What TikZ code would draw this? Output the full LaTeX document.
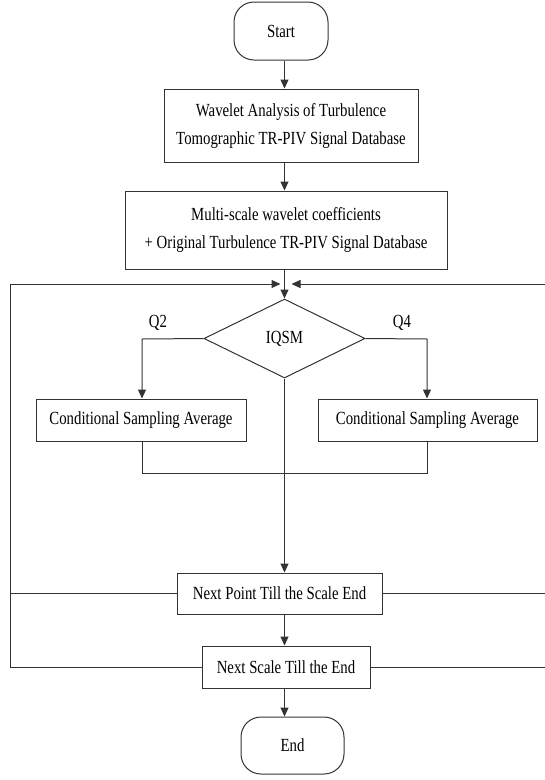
\documentclass[tikz,border=0pt]{standalone}
\usepackage{fontspec}
\setmainfont{Liberation Serif}[FakeStretch=0.8]
\usetikzlibrary{arrows.meta,shapes.geometric}
\begin{document}
\begin{tikzpicture}[x=1pt,y=-1pt,
  ln/.style={draw=black!80,line width=1pt},
  arr/.style={ln,-{Triangle[length=9pt,width=8pt]}},
  procbox/.style={ln,rectangle,inner sep=0pt,align=center,font=\fontsize{18.5}{28}\selectfont},
  termbox/.style={ln,rectangle,rounded corners=20pt,inner sep=0pt,font=\fontsize{18.5}{20}\selectfont},
  lbl/.style={font=\fontsize{18.5}{20}\selectfont,inner sep=0pt}]
\useasboundingbox (0,0) rectangle (545,780);
\node[termbox,minimum width=94pt,minimum height=58pt] (start) at (281,31) {Start};
\node[procbox,minimum width=254pt,minimum height=73pt] (b1) at (291,125.5) {Wavelet Analysis of Turbulence\\Tomographic TR-PIV Signal Database};
\node[procbox,minimum width=322pt,minimum height=78pt] (b2) at (286,230) {Multi-scale wavelet coefficients\\+ Original Turbulence TR-PIV Signal Database};
\node[ln,diamond,minimum width=161pt,minimum height=79pt,inner sep=0pt,font=\fontsize{18.5}{20}\selectfont] (dia) at (284.5,338.5) {IQSM};
\node[lbl] (q2) at (158,323) {Q2};
\node[lbl] (q4) at (402,323) {Q4};
\node[procbox,minimum width=210pt,minimum height=42pt] (csal) at (141,420) {Conditional Sampling Average};
\node[procbox,minimum width=219pt,minimum height=42pt] (csar) at (427.5,420) {Conditional Sampling Average};
\node[procbox,minimum width=205pt,minimum height=41pt] (np) at (279.5,593.5) {Next Point Till the Scale End};
\node[procbox,minimum width=168pt,minimum height=42pt] (ns) at (286,667) {Next Scale Till the End};
\node[termbox,minimum width=103pt,minimum height=57pt] (end) at (292.5,745.5) {End};
\coordinate (lt) at (10,284);
\coordinate (lb) at (10,667);
\coordinate (rt) at (548,284);
\coordinate (rb) at (548,667);
\coordinate (ltip) at (280.5,284);
\coordinate (rtip) at (291.5,284);
\coordinate (bl) at (142,339);
\coordinate (br) at (427,339);
\coordinate (ml) at (142,473);
\coordinate (mr) at (427,473);
\draw[arr] (start.south -| dia.north) -- (dia.north |- b1.north);
\draw[arr] (b1.south -| dia.north) -- (dia.north |- b2.north);
\draw[arr] (b2.south -| dia.north) -- (dia.north);
\draw[arr] (dia.west) -- (bl) -- (bl |- csal.north);
\draw[arr] (dia.east) -- (br) -- (br |- csar.north);
\draw[ln] (ml |- csal.south) -- (ml) -- (mr) -- (mr |- csar.south);
\draw[arr] (dia.south) -- (dia.south |- np.north);
\draw[arr] (dia.south |- np.south) -- (dia.south |- ns.north);
\draw[arr] (dia.south |- ns.south) -- (dia.south |- end.north);
\draw[arr] (ns.west) -- (lb) -- (lt) -- (ltip);
\draw[ln] (np.west) -- (np.west -| lt);
\draw[arr] (ns.east) -- (rb) -- (rt) -- (rtip);
\draw[ln] (np.east) -- (np.east -| rt);
\end{tikzpicture}
\end{document}
